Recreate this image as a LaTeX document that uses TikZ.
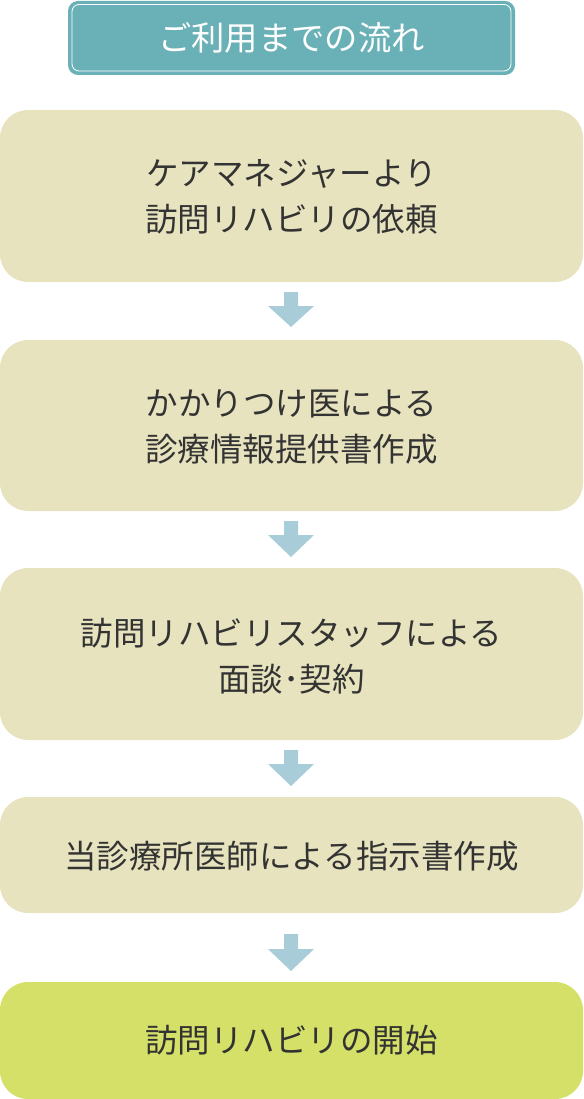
\documentclass[tikz,border=0pt]{standalone}
\usepackage{fontspec}
\newfontfamily\jp{Noto Sans CJK JP}
\definecolor{titlebg}{HTML}{6AB1B7}
\definecolor{stepbg}{HTML}{E7E3BE}
\definecolor{lastbg}{HTML}{D4E067}
\definecolor{arrowc}{HTML}{A8CCD8}
\definecolor{txt}{HTML}{333333}
\tikzset{
  stepbox/.style={fill=stepbg, rounded corners=28pt, draw=none},
  lastbox/.style={fill=lastbg, rounded corners=28pt, draw=none},
  steptext/.style={font=\jp\fontsize{32.5}{46}\selectfont, text=txt, align=center, inner sep=0pt},
  downarrow/.style={fill=arrowc, draw=none},
}
\begin{document}
\begin{tikzpicture}[x=1pt,y=-1pt]
\useasboundingbox (0,0) rectangle (583,1099);
% title
\fill[titlebg, rounded corners=10pt] (68,1) rectangle (515,75);
\draw[white, line width=0.8pt, rounded corners=7pt] (72,4.5) rectangle (511,71);
\node[font=\jp\fontsize{33.3}{38}\selectfont, text=white, inner sep=0pt] (title) at (291.5,38) {ご利用までの流れ};
% boxes
\fill[stepbox] (0,110) rectangle (583,282);
\node[steptext] (s1) at (291.5,197) {ケアマネジャーより\\訪問リハビリの依頼};
\fill[stepbox] (0,340) rectangle (583,511);
\node[steptext] (s2) at (291.5,427) {かかりつけ医による\\診療情報提供書作成};
\fill[stepbox] (0,568) rectangle (583,740);
\node[steptext] (s3) at (291.5,656) {訪問リハビリスタッフによる\\面談･契約};
\fill[stepbox] (0,797) rectangle (583,913);
\node[steptext] (s4) at (291.5,856) {当診療所医師による指示書作成};
\fill[lastbox] (0,982) rectangle (583,1099);
\node[steptext] (s5) at (291.5,1040) {訪問リハビリの開始};
% arrows
\foreach \t/\h/\b in {292/306/327, 521/535/557, 750/764/786, 934/949/971}{
  \fill[downarrow] (284,\t) -- (298,\t) -- (298,\h) -- (314,\h) -- (291,\b) -- (268,\h) -- (284,\h) -- cycle;
}
\end{tikzpicture}
\end{document}
